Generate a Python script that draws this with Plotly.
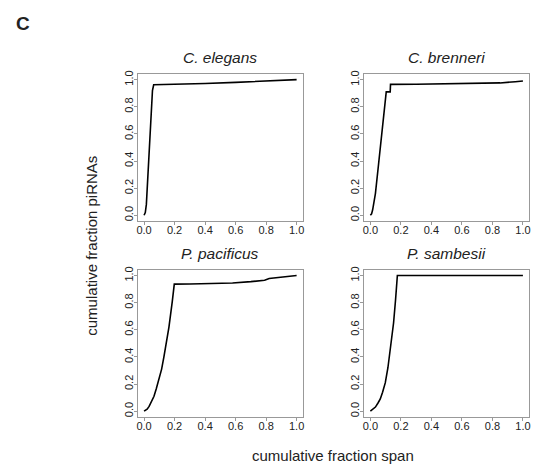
import plotly.graph_objects as go

W, H = 534, 469

species = ["C. elegans", "C. brenneri", "P. pacificus", "P. sambesii"]

elegans_x = [0.0, 0.008, 0.015, 0.025, 0.035, 0.045, 0.055, 0.063, 0.2, 0.4, 0.6, 0.8, 0.95, 1.0]
elegans_y = [0.0, 0.02, 0.08, 0.3, 0.55, 0.78, 0.92, 0.962, 0.965, 0.972, 0.98, 0.99, 0.997, 1.0]

brenneri_x = [0.0, 0.008, 0.015, 0.033, 0.054, 0.076, 0.09, 0.104, 0.13, 0.132, 0.3, 0.5, 0.7, 0.85, 0.95, 1.0]
brenneri_y = [0.0, 0.01, 0.04, 0.16, 0.38, 0.61, 0.76, 0.91, 0.91, 0.965, 0.966, 0.969, 0.972, 0.976, 0.985, 0.99]

pacificus_x = [0.0, 0.02, 0.033, 0.05, 0.065, 0.08, 0.098, 0.115, 0.13, 0.147, 0.163, 0.185, 0.198, 0.3, 0.45, 0.58, 0.7, 0.79, 0.82, 0.9, 1.0]
pacificus_y = [0.0, 0.015, 0.035, 0.07, 0.11, 0.165, 0.235, 0.31, 0.40, 0.50, 0.62, 0.81, 0.937, 0.938, 0.94, 0.945, 0.955, 0.965, 0.978, 0.988, 1.0]

sambesii_x = [0.0, 0.015, 0.033, 0.05, 0.065, 0.08, 0.098, 0.115, 0.13, 0.142, 0.152, 0.165, 0.177, 0.3, 0.6, 1.0]
sambesii_y = [0.0, 0.012, 0.03, 0.06, 0.09, 0.14, 0.21, 0.32, 0.45, 0.55, 0.65, 0.82, 1.0, 1.0, 1.0, 1.0]

tick_vals = [0.0, 0.2, 0.4, 0.6, 0.8, 1.0]
tick_text = ["0.0", "0.2", "0.4", "0.6", "0.8", "1.0"]

series = [(elegans_x, elegans_y), (brenneri_x, brenneri_y),
          (pacificus_x, pacificus_y), (sambesii_x, sambesii_y)]

# pixel boxes [left, right], [top, bottom]
cols = [(137, 303), (365, 531)]
rows = [(71, 219), (269, 417)]

FONT = "Liberation Sans, Arial, Helvetica, sans-serif"
fig = go.Figure()
layout = dict(
    width=W, height=H, margin=dict(l=0, r=0, t=0, b=0),
    paper_bgcolor="white", plot_bgcolor="white", showlegend=False,
    font=dict(family=FONT, color="#222"),
)
annotations = []
for i, (sx, sy) in enumerate(series):
    r, c = divmod(i, 2)
    n = "" if i == 0 else str(i + 1)
    xa, ya = "x" + n, "y" + n
    fig.add_trace(go.Scatter(x=sx, y=sy, mode="lines", xaxis=xa, yaxis=ya,
                             line=dict(color="black", width=1.6), hoverinfo="skip"))
    xl, xr = cols[c]
    yt, yb = rows[r]
    common = dict(range=[-0.04, 1.04], showgrid=False, zeroline=False,
                  showline=True, linecolor="#999", linewidth=1, mirror=True,
                  ticks="outside", ticklen=3, tickcolor="#999", tickwidth=1,
                  tickvals=tick_vals, ticktext=tick_text,
                  tickfont=dict(size=11, family=FONT, color="#222"), fixedrange=True)
    layout["xaxis" + n] = dict(common, domain=[xl / W, xr / W], anchor=ya, ticklabelstandoff=-4)
    layout["yaxis" + n] = dict(common, domain=[1 - yb / H, 1 - yt / H], anchor=xa, tickangle=-90, ticklabelstandoff=-3)
    annotations.append(dict(text="<i>" + species[i] + "</i>", x=(xl + xr) / 2 / W, y=1 - (yt - 17) / H,
                            xref="paper", yref="paper", showarrow=False,
                            font=dict(size=15.5, family=FONT, color="#222"), xanchor="center", yanchor="middle"))

annotations.append(dict(text="<b>C</b>", x=12 / W, y=1 - 20 / H, xref="paper", yref="paper",
                        showarrow=False, font=dict(size=19, family=FONT, color="#222"),
                        xanchor="left", yanchor="middle"))
annotations.append(dict(text="cumulative fraction piRNAs", x=90 / W, y=1 - 244 / H, xref="paper", yref="paper",
                        showarrow=False, textangle=-90, font=dict(size=15, family=FONT, color="#222"),
                        xanchor="center", yanchor="middle"))
annotations.append(dict(text="cumulative fraction span", x=334 / W, y=1 - 456 / H, xref="paper", yref="paper",
                        showarrow=False, font=dict(size=15, family=FONT, color="#222"),
                        xanchor="center", yanchor="middle"))
layout["annotations"] = annotations
fig.update_layout(**layout)
fig.write_html("out.html", config={"displayModeBar": False})
